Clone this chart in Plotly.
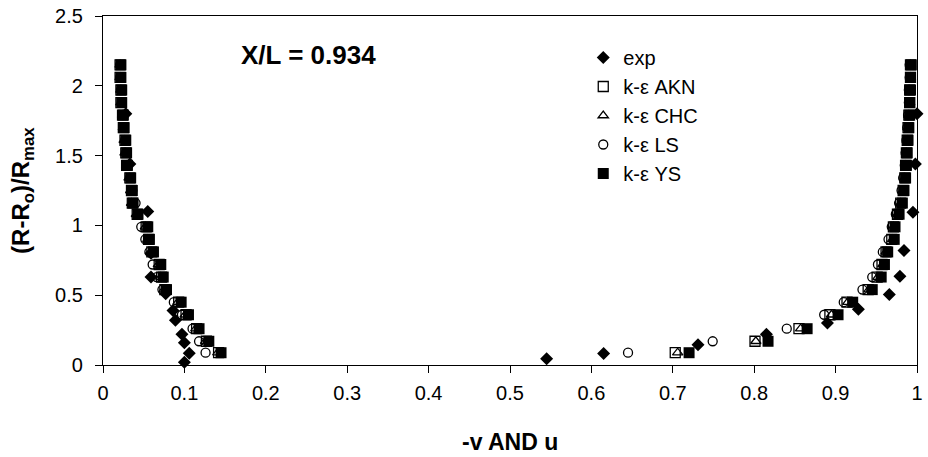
import plotly.graph_objects as go

# Radial grid levels shared by the k-epsilon model profiles
Y_MODEL = [0.088, 0.17, 0.26, 0.36, 0.45, 0.54, 0.63, 0.72, 0.81, 0.90, 0.99, 1.08,
           1.16, 1.25, 1.34, 1.43, 1.52, 1.61, 1.70, 1.79, 1.88, 1.97, 2.06, 2.15]

# -v profiles (left branch)
AKN_V = [0.142, 0.127, 0.115, 0.102, 0.093, 0.076, 0.072, 0.069, 0.060, 0.056, 0.053, 0.042,
         0.036, 0.035, 0.033, 0.029, 0.028, 0.027, 0.025, 0.024, 0.022, 0.022, 0.021, 0.021]
CHC_V = [0.141, 0.126, 0.114, 0.101, 0.092, 0.075, 0.071, 0.068, 0.059, 0.055, 0.052, 0.041,
         0.035, 0.034, 0.032, 0.029, 0.027, 0.026, 0.025, 0.024, 0.022, 0.022, 0.021, 0.021]
LS_V = [0.126, 0.118, 0.110, 0.097, 0.087, 0.073, 0.066, 0.061, 0.057, 0.052, 0.047, 0.043,
        0.040, 0.036, 0.033, 0.030, 0.028, 0.027, 0.025, 0.024, 0.023, 0.022, 0.021, 0.021]
YS_V = [0.145, 0.130, 0.118, 0.105, 0.096, 0.078, 0.074, 0.071, 0.062, 0.057, 0.055, 0.043,
        0.037, 0.036, 0.034, 0.030, 0.029, 0.028, 0.026, 0.025, 0.023, 0.023, 0.022, 0.022]

# u profiles (right branch)
AKN_U = [0.703, 0.801, 0.855, 0.893, 0.914, 0.940, 0.951, 0.957, 0.962, 0.969, 0.971, 0.976,
         0.980, 0.983, 0.985, 0.986, 0.987, 0.988, 0.989, 0.990, 0.991, 0.991, 0.992, 0.992]
CHC_U = [0.706, 0.802, 0.857, 0.895, 0.915, 0.941, 0.952, 0.958, 0.962, 0.970, 0.971, 0.976,
         0.980, 0.983, 0.985, 0.986, 0.987, 0.988, 0.989, 0.990, 0.991, 0.991, 0.992, 0.992]
LS_U = [0.645, 0.749, 0.840, 0.886, 0.910, 0.933, 0.945, 0.952, 0.958, 0.965, 0.969, 0.974,
        0.978, 0.981, 0.983, 0.985, 0.986, 0.987, 0.988, 0.989, 0.990, 0.990, 0.991, 0.991]
YS_U = [0.720, 0.817, 0.865, 0.903, 0.921, 0.945, 0.956, 0.960, 0.964, 0.972, 0.973, 0.978,
        0.982, 0.984, 0.986, 0.987, 0.988, 0.989, 0.990, 0.991, 0.991, 0.992, 0.992, 0.993]

# Measurements
EXP_V_X = [0.100, 0.106, 0.100, 0.097, 0.089, 0.086, 0.077, 0.059, 0.059, 0.055, 0.033, 0.028]
EXP_V_Y = [0.020, 0.084, 0.160, 0.220, 0.320, 0.390, 0.510, 0.630, 0.800, 1.100, 1.440, 1.800]
EXP_U_X = [0.545, 0.615, 0.731, 0.815, 0.890, 0.928, 0.966, 0.979, 0.984, 0.995, 0.998, 1.000]
EXP_U_Y = [0.045, 0.083, 0.145, 0.220, 0.300, 0.400, 0.505, 0.636, 0.820, 1.095, 1.440, 1.800]

FONT = "Liberation Sans, Arial, sans-serif"

fig = go.Figure()


def add_series(name, xs, ys, symbol, size, color, line_w, group):
    fig.add_trace(go.Scatter(
        x=xs, y=ys, mode="markers", name=name, legendgroup=group,
        cliponaxis=False,
        marker=dict(symbol=symbol, size=size, color=color,
                    line=dict(color="black", width=line_w)),
    ))


add_series("exp", EXP_V_X + EXP_U_X, EXP_V_Y + EXP_U_Y, "diamond", 10, "black", 0, "g1")
add_series("k-ε AKN", AKN_V + AKN_U, Y_MODEL + Y_MODEL, "square-open", 10, "black", 1.3, "g2")
add_series("k-ε CHC", CHC_V + CHC_U, Y_MODEL + Y_MODEL, "triangle-up-open", 9, "black", 1.3, "g3")
add_series("k-ε LS", LS_V + LS_U, Y_MODEL + Y_MODEL, "circle-open", 9, "black", 1.3, "g4")
add_series("k-ε YS", YS_V + YS_U, Y_MODEL + Y_MODEL, "square", 11, "black", 0, "g5")

axis_common = dict(
    showline=True, linecolor="black", linewidth=1.3, mirror=True,
    ticks="outside", ticklen=7, tickcolor="black", tickwidth=1.3,
    showgrid=False, zeroline=False, ticklabeloverflow="allow",
    tickfont=dict(family=FONT, size=20, color="black"),
)

fig.update_layout(
    width=928, height=457, autosize=False,
    margin=dict(l=103, r=5, t=15, b=92),
    paper_bgcolor="white", plot_bgcolor="white",
    xaxis=dict(range=[0, 1], dtick=0.1, ticklabelstandoff=3, **axis_common),
    yaxis=dict(range=[0, 2.5], dtick=0.5, ticklabelstandoff=8, **axis_common),
    showlegend=True,
    legend=dict(
        x=0.59, y=0.937, xanchor="left", yanchor="top",
        bgcolor="rgba(0,0,0,0)", borderwidth=0,
        font=dict(family=FONT, size=20, color="black"),
        tracegroupgap=0, itemwidth=30,
    ),
    annotations=[
        dict(text="<b>X/L = 0.934</b>", x=0.252, y=2.22, xref="x", yref="y",
             showarrow=False, font=dict(family=FONT, size=26, color="black")),
        dict(text="<b>-v AND u</b>", x=0.5, y=-0.22, xref="paper", yref="paper",
             showarrow=False, yanchor="middle",
             font=dict(family=FONT, size=23, color="black")),
        dict(text="<b>(R-R<sub>o</sub>)/R<sub>max</sub></b>", x=-0.099, y=0.5,
             xref="paper", yref="paper", textangle=-90, showarrow=False,
             xanchor="center", yanchor="middle",
             font=dict(family=FONT, size=24, color="black")),
    ],
)

fig.write_html("out.html")
